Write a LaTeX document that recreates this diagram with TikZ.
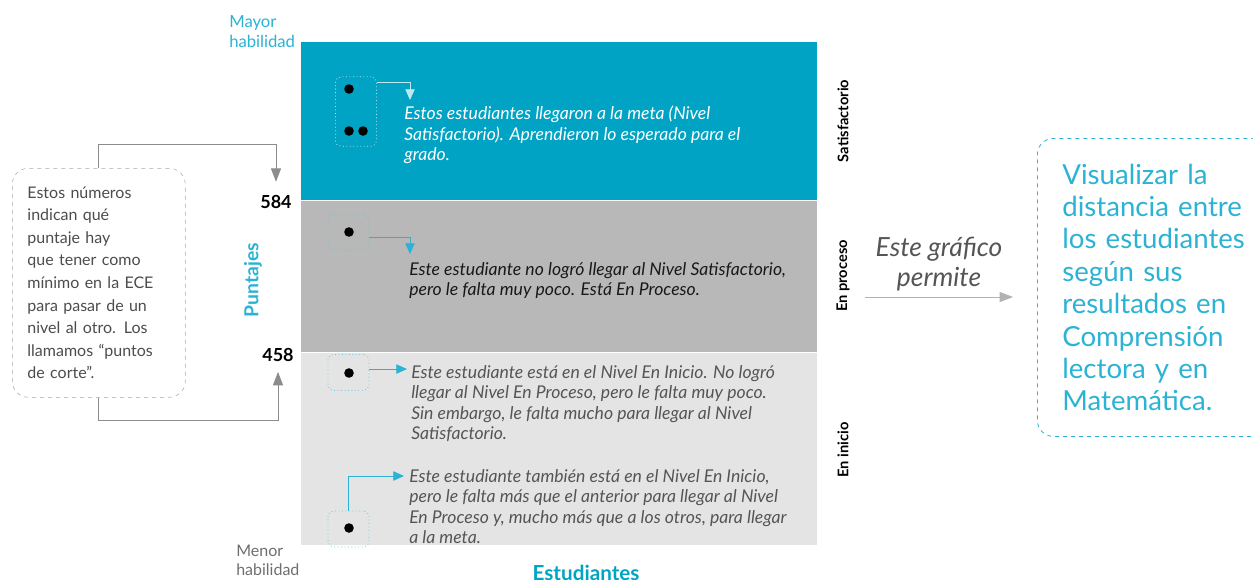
\documentclass[tikz,border=0pt]{standalone}
\usepackage{fontspec}
\setmainfont{Lato}
\usetikzlibrary{arrows.meta,positioning}
\definecolor{satblue}{HTML}{00A3C4}
\definecolor{procgray}{HTML}{B8B8B8}
\definecolor{iniciogray}{HTML}{E4E4E4}
\definecolor{labelcyan}{HTML}{2BB2D4}
\definecolor{notegray}{HTML}{A8A8A8}
\definecolor{txtgray}{HTML}{555555}
\definecolor{palecyan}{HTML}{BDE8F2}

\tikzset{
  dotbox/.style={draw=labelcyan!75, dotted, semithick, rounded corners=4pt,
    minimum width=30.75pt, minimum height=27pt, inner sep=0pt},
  bandtxt/.style={anchor=north west, inner sep=0pt, align=left,
    font=\fontsize{13.2}{15.4}\selectfont\itshape},
  sidelbl/.style={rotate=90, inner sep=0pt, font=\fontsize{11}{12}\selectfont\bfseries},
  bluearrow/.style={labelcyan, semithick, -{Triangle[width=7pt,length=8pt]}},
  grayarrow/.style={gray!90, semithick, -{Triangle[width=7.5pt,length=10pt]}},
}

\begin{document}
\begin{tikzpicture}[x=0.75pt,y=-0.75pt]
  \useasboundingbox (0,0) rectangle (1253,579);
  % bands
  \fill[satblue] (301,42) rectangle (817,200);
  \fill[procgray] (301,201) rectangle (817,352);
  \fill[iniciogray] (301,353) rectangle (817,545);

  % scale labels
  \node[anchor=north west, inner sep=0pt, align=left, text=labelcyan,
    font=\fontsize{12.5}{15}\selectfont] (mayor) at (229,15) {Mayor\\habilidad};
  \node[anchor=north west, inner sep=0pt, align=left, text=txtgray!85,
    font=\fontsize{12}{13.8}\selectfont] (menor) at (236,545) {Menor\\habilidad};
  \node[anchor=north, inner sep=0pt, text=satblue,
    font=\fontsize{15.5}{18}\selectfont\bfseries] (estud) at (586,565) {Estudiantes};
  \node[rotate=90, inner sep=0pt, text=labelcyan,
    font=\fontsize{14.5}{15}\selectfont\bfseries] (punt) at (253,280) {Puntajes};
  \node[inner sep=0pt, font=\fontsize{13.5}{15}\selectfont\bfseries] (l584) at (276,202) {584};
  \node[inner sep=0pt, font=\fontsize{13.5}{15}\selectfont\bfseries] (l458) at (278,355) {458};

  % level names
  \node[sidelbl] (nsat) at (843,121) {Satisfactorio};
  \node[sidelbl] (nproc) at (843,276) {En proceso};
  \node[sidelbl] (nini) at (843,450) {En inicio};

  % note on the cut points
  \node[draw=notegray, dashed, rounded corners=12pt, anchor=north west,
    minimum width=129.75pt, minimum height=171.75pt, inner xsep=11.25pt,
    text width=107pt, align=left, text=txtgray!90!black,
    font=\fontsize{12}{16.9}\selectfont] (note) at (12,168)
    {Estos números\\indican qué\\puntaje hay\\que tener como\\mínimo en la ECE\\para pasar de un\\nivel al otro. Los\\llamamos “puntos\\de corte”.};
  \draw[grayarrow, shorten >=10pt] (note.north) -- ++(0,-24) -| (l584.north);
  \draw[grayarrow, shorten >=7.5pt] (note.south) -- ++(0,23) -| (l458.south);

  % students
  \node[dotbox, draw=palecyan, minimum height=52pt] (satbox) at (356,111.5) {};
  \fill (349,89) circle (3.6pt) (349,131) circle (3.6pt) (363,131) circle (3.6pt);
  \node[dotbox] (procbox) at (348.5,232) {};
  \node[dotbox] (ini1box) at (348.5,372.5) {};
  \node[dotbox] (ini2box) at (348.5,529) {};
  \foreach \y in {232,373,528}
    \fill (349,\y) circle (3.6pt);

  \node[bandtxt, text=white] (sattxt) at (404,106)
    {Estos estudiantes llegaron a la meta (Nivel\\Satisfactorio). Aprendieron lo esperado para el\\grado.};
  \node[bandtxt, text=black!90] (proctxt) at (409,262)
    {Este estudiante no logró llegar al Nivel Satisfactorio,\\pero le falta muy poco. Está En Proceso.};
  \node[bandtxt, text=txtgray] (ini1txt) at (411,365)
    {Este estudiante está en el Nivel En Inicio. No logró\\llegar al Nivel En Proceso, pero le falta muy poco.\\Sin embargo, le falta mucho para llegar al Nivel\\Satisfactorio.};
  \node[bandtxt, text=txtgray] (ini2txt) at (409,469)
    {Este estudiante también está en el Nivel En Inicio,\\pero le falta más que el anterior para llegar al Nivel\\En Proceso y, mucho más que a los otros, para llegar\\a la meta.};

  \draw[bluearrow, palecyan, shorten >=4.5pt] ([yshift=-4.5pt]satbox.north east) -| ([xshift=4.5pt]sattxt.north west);
  \draw[bluearrow, shorten >=6pt] ([yshift=-3.75pt]procbox.east) -| ([xshift=0.75pt]proctxt.north west);
  \draw[bluearrow, shorten >=3pt] ([yshift=2.6pt]ini1box.east) -- ([yshift=2.6pt]ini1box.east -| ini1txt.west);
  \draw[bluearrow, shorten >=3.75pt] (ini2box.north) |- ([yshift=-5.25pt]ini2txt.north west);

  % what the chart is for
  \node[draw=labelcyan, dashed, semithick, rounded corners=12pt, anchor=north west,
    minimum width=166pt, minimum height=223.5pt, inner xsep=18.75pt,
    text width=150pt, align=left, text=labelcyan,
    font=\fontsize{20.7}{24.3}\selectfont] (vis) at (1037,138)
    {Visualizar la\\distancia entre\\los estudiantes\\según sus\\resultados en\\Comprensión\\lectora y en\\Matemática.};
  \coordinate (permarr) at (865,297);
  \draw[grayarrow, gray!60, shorten >=18pt] (permarr) -- (permarr -| vis.west);
  \node[anchor=south, inner sep=0pt, align=center, text=txtgray,
    font=\fontsize{19.8}{22.5}\selectfont\itshape] (permite) at (939,291)
    {Este gráfico\\permite};
\end{tikzpicture}
\end{document}
